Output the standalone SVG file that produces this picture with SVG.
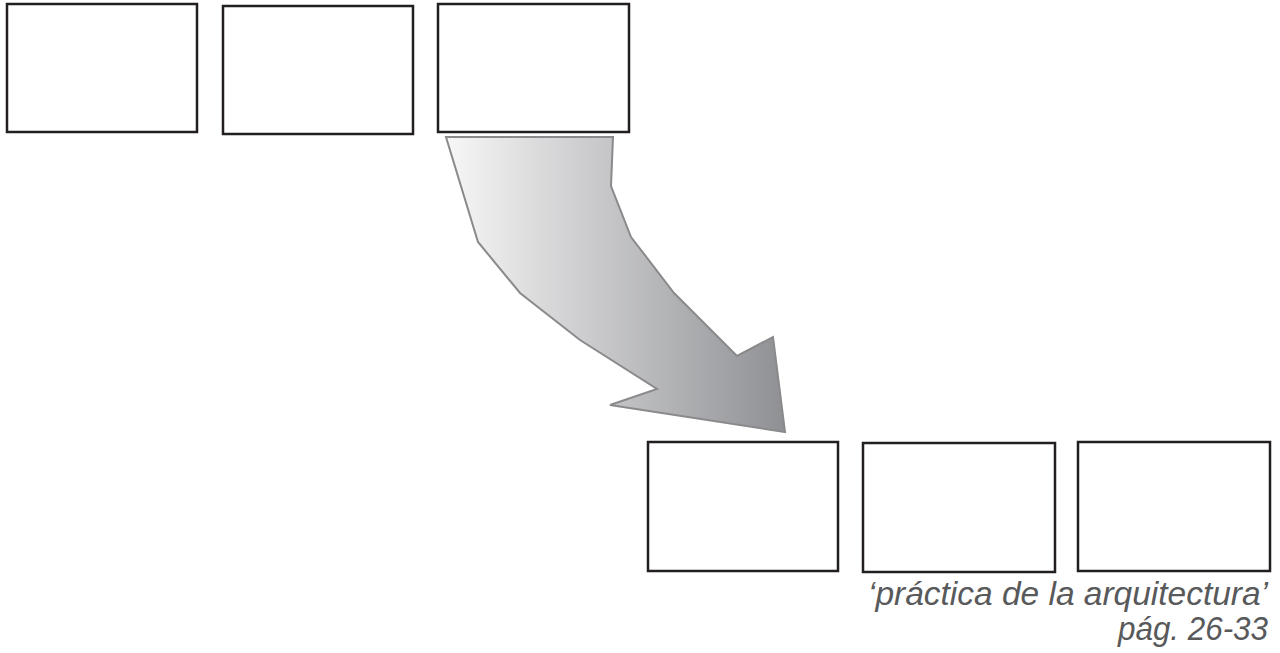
<svg xmlns="http://www.w3.org/2000/svg" width="1280" height="653" viewBox="0 0 1280 653">
  <defs>
    <linearGradient id="arrowFill" x1="446" y1="0" x2="785" y2="0" gradientUnits="userSpaceOnUse">
      <stop offset="0" stop-color="#f7f7f7"/>
      <stop offset="1" stop-color="#8f9094"/>
    </linearGradient>
  </defs>
  <style>
    .frame { fill: #ffffff; stroke: #231f20; stroke-width: 2.5; }
    .arrow { fill: url(#arrowFill); stroke: #8a8a8c; stroke-width: 2; stroke-linejoin: miter; }
    .caption { font-family: "Liberation Sans", Arial, sans-serif; font-style: italic; font-size: 33px; fill: #58595b; text-anchor: end; }
  </style>
  <rect width="1280" height="653" fill="#ffffff"/>

  <!-- top row of frames -->
  <g id="frame-top-1"><rect class="frame" x="7" y="4" width="190" height="128"/></g>
  <g id="frame-top-2"><rect class="frame" x="223" y="6" width="190" height="128"/></g>
  <g id="frame-top-3"><rect class="frame" x="438" y="4" width="191" height="128"/></g>

  <!-- bottom row of frames -->
  <g id="frame-bottom-1"><rect class="frame" x="648" y="442" width="190" height="129"/></g>
  <g id="frame-bottom-2"><rect class="frame" x="863" y="443" width="192" height="129"/></g>
  <g id="frame-bottom-3"><rect class="frame" x="1078" y="442" width="192" height="129"/></g>

  <!-- connector: curved block arrow -->
  <g id="connectors">
    <polygon class="arrow" points="446,137 613,137 611,186 631,237 674,293 737,356 773,337 785,432 610,405 657,389 580,340 520,293 478,242"/>
  </g>

  <!-- caption, right-aligned under the last frame -->
  <g id="caption">
    <text class="caption" x="1268" y="605" textLength="400" lengthAdjust="spacingAndGlyphs">‘práctica de la arquitectura’</text>
    <text class="caption" x="1268" y="640" textLength="150" lengthAdjust="spacingAndGlyphs">pág. 26-33</text>
  </g>
</svg>
